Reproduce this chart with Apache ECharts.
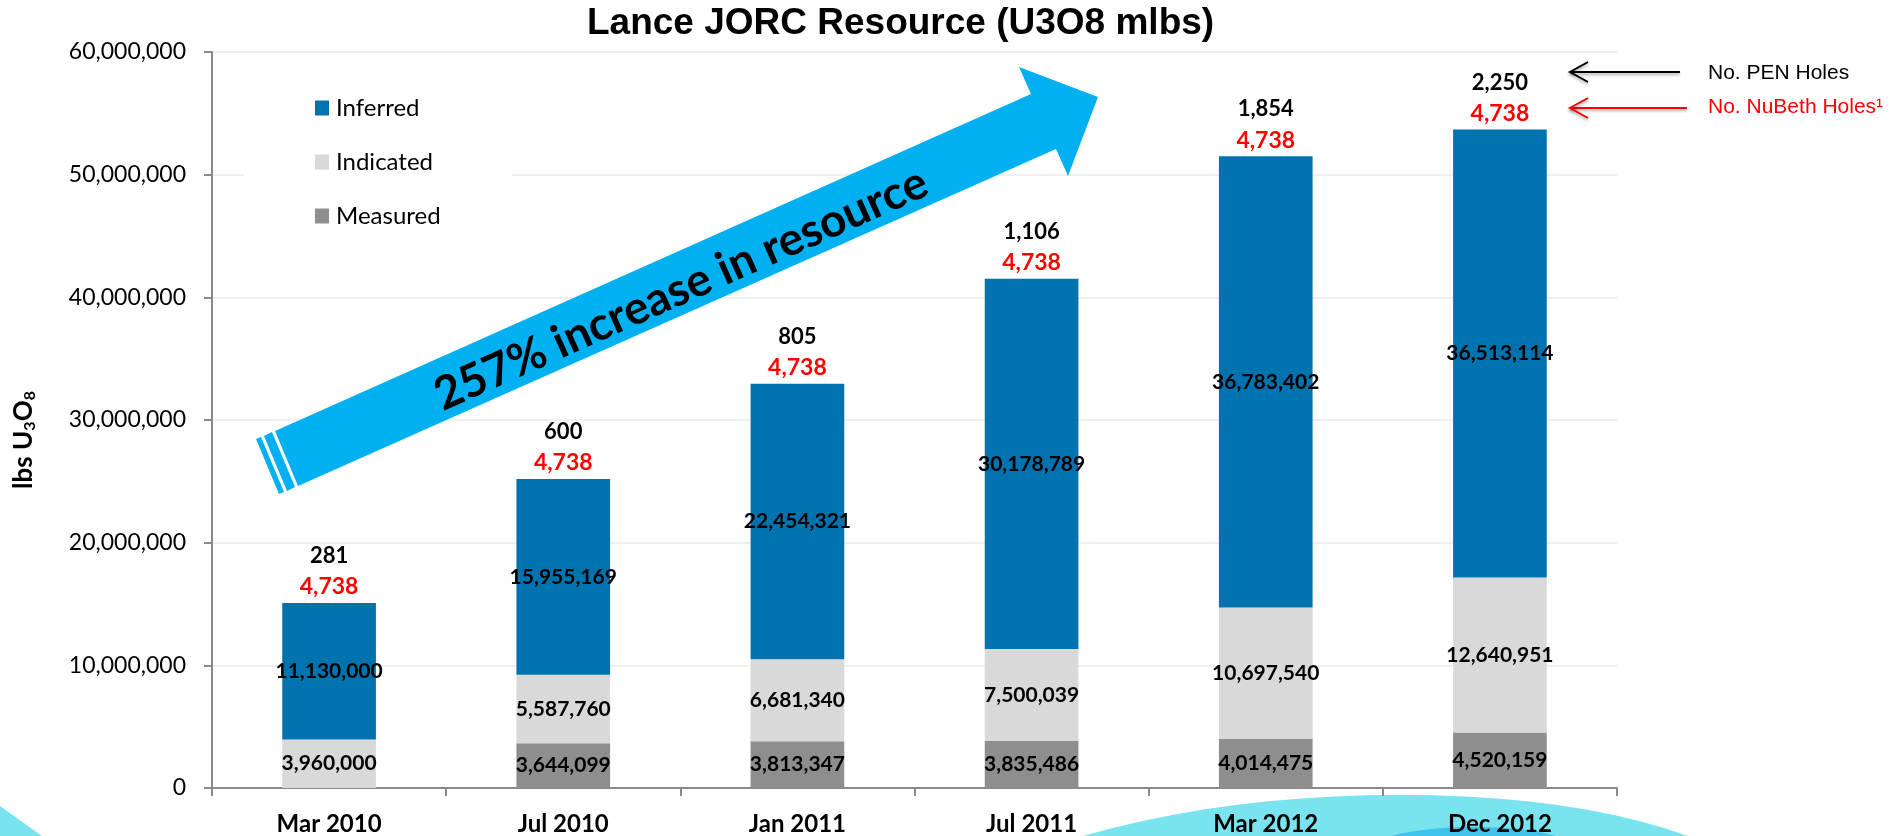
<!DOCTYPE html>
<html>
<head>
<meta charset="utf-8">
<title>Lance JORC Resource</title>
<script src="https://cdn.jsdelivr.net/npm/echarts@6/dist/echarts.min.js"></script>
<style>
  html, body { margin: 0; padding: 0; background: #fff; }
  #chart_1 { width: 1898px; height: 836px; }
</style>
</head>
<body>
<div id="chart_1"></div>
<script>
// data
var categories = ['Mar 2010', 'Jul 2010', 'Jan 2011', 'Jul 2011', 'Mar 2012', 'Dec 2012'];
var measured = [0, 3644099, 3813347, 3835486, 4014475, 4520159];
var indicated = [3960000, 5587760, 6681340, 7500039, 10697540, 12640951];
var inferred = [11130000, 15955169, 22454321, 30178789, 36783402, 36513114];
var penHoles = [281, 600, 805, 1106, 1854, 2250];
var nubethHoles = [4738, 4738, 4738, 4738, 4738, 4738];
var yTicks = [0, 10000000, 20000000, 30000000, 40000000, 50000000, 60000000];

var totals = categories.map(function (c, i) {
    return measured[i] + indicated[i] + inferred[i];
});

function fmt(v) {
    return Number(v).toLocaleString('en-US');
}

// outline of a decorative hump (cubic bezier), closed along the bottom edge
function hump(x0, x1, c1, c2, cy, base) {
    var pts = [];
    for (var t = 0; t <= 1.0001; t += 0.05) {
        var u = 1 - t;
        pts.push([u * u * u * x0 + 3 * u * u * t * c1 + 3 * u * t * t * c2 + t * t * t * x1,
                  u * u * u * base + 3 * u * u * t * cy + 3 * u * t * t * cy + t * t * t * base]);
    }
    return pts;
}

var insideLabel = {
    show: true,
    position: 'inside',
    color: '#000',
    fontFamily: 'Lato',
    fontWeight: 'bold',
    fontSize: 21,
    formatter: function (p) { return p.value ? fmt(p.value) : ''; }
};

var shadow = { shadowBlur: 3, shadowColor: 'rgba(0,0,0,0.35)', shadowOffsetY: 2 };

var myChart = echarts.init(document.getElementById('chart_1'));
var option = {
    animation: false,
    backgroundColor: '#fff',
    title: {
        text: 'Lance JORC Resource (U3O8 mlbs)',
        left: 587,
        top: 5,
        padding: 0,
        textStyle: { fontFamily: 'Liberation Sans', fontWeight: 'bold', fontSize: 37, color: '#000' }
    },
    legend: {
        orient: 'vertical',
        left: 315,
        top: 96,
        padding: 0,
        itemGap: 30,
        itemWidth: 14,
        itemHeight: 15,
        icon: 'rect',
        selectedMode: false,
        data: ['Inferred', 'Indicated', 'Measured'],
        textStyle: { fontFamily: 'Lato', fontSize: 24, color: '#000', padding: [0, 0, 0, 2] }
    },
    grid: { left: 212, right: 281, top: 52, bottom: 48 },
    xAxis: {
        type: 'category',
        data: categories,
        axisLine: { lineStyle: { color: '#8a8a8a', width: 2 } },
        axisTick: { show: true, length: 8, lineStyle: { color: '#8a8a8a', width: 2 } },
        axisLabel: { margin: 24, color: '#000', fontFamily: 'Lato', fontWeight: 'bold', fontSize: 24 }
    },
    yAxis: {
        type: 'value',
        min: yTicks[0],
        max: yTicks[yTicks.length - 1],
        interval: yTicks[1] - yTicks[0],
        name: '{b|lbs U}{s|3}{b|O}{s|8}',
        nameLocation: 'middle',
        nameRotate: 90,
        nameGap: 174,
        nameTextStyle: {
            padding: [0, 40, 0, 0],
            rich: {
                b: { fontFamily: 'Lato', fontWeight: 'bold', fontSize: 26, color: '#000', lineHeight: 28 },
                s: { fontFamily: 'Lato', fontWeight: 'bold', fontSize: 16, color: '#000', lineHeight: 16, verticalAlign: 'bottom' }
            }
        },
        axisLine: { show: true, lineStyle: { color: '#8a8a8a', width: 2 } },
        axisTick: { show: true, length: 8, lineStyle: { color: '#8a8a8a', width: 2 } },
        axisLabel: { margin: 26, color: '#000', fontFamily: 'Lato', fontSize: 23, formatter: fmt },
        splitLine: { lineStyle: { color: '#ebebeb', width: 1.5 } }
    },
    graphic: [
        // white box behind the legend that hides the grid line
        { type: 'rect', z: 1, shape: { x: 244, y: 80, width: 268, height: 165 }, style: { fill: '#fff' } },
        // decorative waves at the bottom
        { type: 'polygon', z: -1, shape: { points: hump(1083, 1688, 1270, 1540, 781, 836) }, style: { fill: '#7ae3f0' } },
        { type: 'polygon', z: -1, shape: { points: hump(1392, 1555, 1430, 1520, 824, 836) }, style: { fill: '#3ec3ea' } },
        { type: 'polygon', z: -1, shape: { points: [[0, 806], [42, 836], [0, 836]] }, style: { fill: '#7ae3f0' } },
        // big arrow
        { type: 'polygon', z: 3, shape: { points: [[275, 431], [1031, 94], [1019, 67], [1098, 97], [1068, 176], [1056, 149], [298, 486]] }, style: { fill: '#00b0f0' } },
        { type: 'polygon', z: 3, shape: { points: [[264, 436], [272, 432], [295, 487], [287, 491]] }, style: { fill: '#00b0f0' } },
        { type: 'polygon', z: 3, shape: { points: [[256, 439], [261, 437], [284, 492], [279, 494]] }, style: { fill: '#00b0f0' } },
        {
            type: 'text', z: 4, x: 681, y: 289, rotation: 24 * Math.PI / 180,
            style: { text: '257% increase in resource', fill: '#000', fontFamily: 'Lato', fontWeight: 'bold', fontSize: 46, align: 'center', verticalAlign: 'middle' }
        },
        // hole count pointers
        { type: 'polyline', z: 4, shape: { points: [[1680, 72], [1570, 72]] }, style: Object.assign({ stroke: '#000', lineWidth: 2 }, shadow) },
        { type: 'polyline', z: 4, shape: { points: [[1588, 62], [1570, 72], [1588, 82]] }, style: Object.assign({ stroke: '#000', lineWidth: 2, fill: null }, shadow) },
        { type: 'polyline', z: 4, shape: { points: [[1687, 108], [1570, 108]] }, style: Object.assign({ stroke: '#ff0000', lineWidth: 2 }, shadow) },
        { type: 'polyline', z: 4, shape: { points: [[1588, 98], [1570, 108], [1588, 118]] }, style: Object.assign({ stroke: '#ff0000', lineWidth: 2, fill: null }, shadow) },
        {
            type: 'text', z: 4, x: 1708, y: 73,
            style: { text: 'No. PEN Holes', fill: '#000', fontFamily: 'Liberation Sans', fontSize: 21, verticalAlign: 'middle' }
        },
        {
            type: 'text', z: 4, x: 1708, y: 107,
            style: { text: 'No. NuBeth Holes\u00b9', fill: '#ff0000', fontFamily: 'Liberation Sans', fontSize: 21, verticalAlign: 'middle' }
        }
    ],
    series: [
        {
            name: 'Measured', type: 'bar', stack: 'res', barWidth: '40%',
            itemStyle: { color: '#8e8e8e' }, label: insideLabel, data: measured
        },
        {
            name: 'Indicated', type: 'bar', stack: 'res', barWidth: '40%',
            itemStyle: { color: '#d9d9d9' }, label: insideLabel, data: indicated
        },
        {
            name: 'Inferred', type: 'bar', stack: 'res', barWidth: '40%',
            itemStyle: { color: '#0073ae' }, label: insideLabel, data: inferred
        },
        {
            name: 'Holes', type: 'scatter', symbolSize: 1,
            itemStyle: { color: 'rgba(0,0,0,0)', opacity: 1 },
            label: {
                show: true,
                position: 'top',
                distance: 0,
                color: '#000',
                opacity: 1,
                fontWeight: 'bold',
                formatter: function (p) {
                    return '{k|' + fmt(penHoles[p.dataIndex]) + '}\n{r|' + fmt(nubethHoles[p.dataIndex]) + '}';
                },
                rich: {
                    k: { fontFamily: 'Lato', fontWeight: 'bold', fontSize: 22, color: '#000', lineHeight: 31 },
                    r: { fontFamily: 'Lato', fontWeight: 'bold', fontSize: 23, color: '#ff0000', lineHeight: 31 }
                }
            },
            data: totals
        }
    ]
};

if (option && typeof option === 'object')
    myChart.setOption(option);
window.addEventListener('resize', function () {
    myChart.resize();
});
</script>
</body>
</html>
